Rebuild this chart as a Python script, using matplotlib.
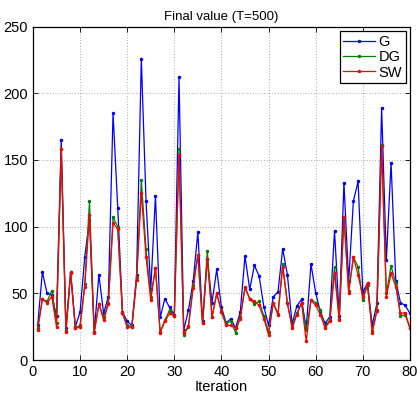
import matplotlib
matplotlib.use("Agg")
import matplotlib.pyplot as plt
import numpy as np

# values (iterations 1..80)
iterations = np.arange(1, 81)

g_vals = [26, 66, 50, 49, 33, 165, 24, 66, 25, 36,
          77.5, 105, 21, 64, 35, 47.5, 185, 114, 36, 29,
          26, 64, 226, 119, 53, 123, 32, 46, 39.5, 34,
          212, 22.5, 37.5, 59, 96, 29, 76, 43, 68, 39.5,
          28, 31, 24, 36, 78, 53, 71, 63, 40, 26,
          47.5, 51, 83.5, 64, 27, 40.5, 45.5, 24, 72, 50.5,
          36, 27.5, 32.5, 97, 33, 133, 59, 119, 134, 51,
          57.5, 26, 42.5, 189, 75, 148, 59.5, 43, 41, 35]

dg_vals = [24, 45.5, 44, 52, 28, 158, 22, 66, 24, 26,
           57, 119, 21, 42, 32, 43, 107, 100, 35, 26,
           25, 62, 135, 83, 47.5, 69, 21, 30, 37.5, 33,
           158, 19, 25, 56, 79, 27.5, 82, 32, 50, 37,
           28, 29, 20.5, 32, 54, 46, 42, 44, 33, 21,
           43, 34.5, 72, 43, 25, 35, 43, 22.5, 45, 43,
           37.5, 25, 30, 70, 31, 107.5, 52, 77, 70, 45,
           56, 22, 37.5, 161, 50, 70.5, 57.5, 33, 34, 24]

sw_vals = [22.5, 45.5, 43, 47.5, 25, 158, 21, 65, 24, 25,
           55, 109, 20.5, 42, 30, 42, 103, 98, 35, 24.5,
           25, 60, 125.5, 77, 45, 69, 20.5, 29, 35, 33,
           154, 20, 25.5, 54, 79, 27.5, 76, 32, 50, 36,
           26, 26, 24, 31, 55, 46, 44, 41, 31, 19,
           43, 34, 69.5, 42.5, 24, 34, 43, 14, 45, 41,
           34, 24, 29, 65, 30, 107.5, 50.5, 77, 64, 47.5,
           57.5, 20.5, 37, 160.5, 47.5, 65, 55, 35, 35.5, 24]

series = [("G", g_vals, (0, 0, 1)),
          ("DG", dg_vals, (0, 0.5, 0)),
          ("SW", sw_vals, (1, 0, 0))]

plt.rcParams['font.family'] = ['Liberation Sans', 'DejaVu Sans']

fig = plt.figure(figsize=(4.17, 3.97), dpi=100)
ax = fig.add_axes([0.079, 0.093, 0.904, 0.840])

for name, vals, col in series:
    ax.plot(iterations, vals, color=col, lw=0.9, marker='.', ms=3, label=name)

ax.set_xlim(0, 80)
ax.set_ylim(0, 250)
ax.set_xticks(np.arange(0, 81, 10))
ax.set_yticks(np.arange(0, 251, 50))
ax.tick_params(direction='in', top=True, right=True, labelsize=10.5, length=3.5, width=0.6)
ax.grid(True, linestyle=(0, (1, 3)), color='0.4', lw=0.5)
for sp in ax.spines.values():
    sp.set_linewidth(0.9)

ax.set_title("Final value (T=500)", fontsize=9.5, pad=5)
ax.set_xlabel("Iteration", fontsize=10.5, labelpad=1)

leg = ax.legend(loc='upper right', fontsize=10.5, fancybox=False, framealpha=1,
                edgecolor='black', handlelength=2.2, handletextpad=0.2,
                borderpad=0.25, labelspacing=0.1, borderaxespad=0.3)
leg.get_frame().set_linewidth(0.9)

fig.savefig("out.png", dpi=100)
